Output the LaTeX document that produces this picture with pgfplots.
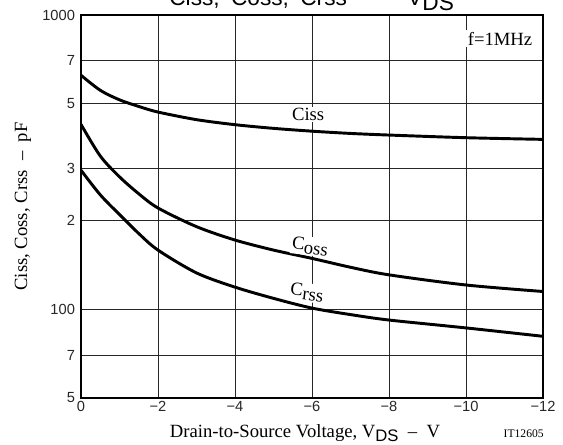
\documentclass[border=0pt]{standalone}
\usepackage{pgfplots}
\pgfplotsset{compat=1.18}
\usepackage{fontspec}
\setmainfont{Liberation Serif}
\newfontfamily\hel{Liberation Sans}
\begin{document}
\begin{tikzpicture}
\useasboundingbox (-60.75pt,-35.25pt) rectangle (361.5pt,298.5pt);
\clip (-60.75pt,-35.25pt) rectangle (361.5pt,298.5pt);
\begin{axis}[
  at={(0pt,0pt)}, anchor=south west,
  width=346.5pt, height=287.25pt, scale only axis,
  xmin=-12, xmax=0, x dir=reverse,
  ymode=log, ymin=50, ymax=1000,
  xtick={0,-2,-4,-6,-8,-10,-12},
  xticklabels={0,−2,−4,−6,−8,−10,−12},
  ytick={50,70,100,200,300,500,700,1000},
  yticklabels={5,7,100,2,3,5,7,1000},
  minor tick num=0,
  grid=major,
  major grid style={black!85, line width=0.7pt},
  axis line style={line width=1.1pt},
  major tick length=0pt,
  tick style={draw=none},
  tick label style={font=\hel\fontsize{11}{13}\selectfont, text=black!85},
  xticklabel style={yshift=1pt},
  yticklabel style={xshift=-1pt},
  clip=true,
]
\addplot[black, line width=2.2pt, smooth] coordinates {
 (0,624) (-0.5,555) (-1,515) (-1.5,489) (-2,468) (-3,441) (-4,424) (-5,412) (-6,403) (-7,396) (-8,391) (-10,383) (-12,378)};
\addplot[black, line width=2.2pt, smooth] coordinates {
 (0,425) (-0.5,332) (-1,282) (-1.5,247) (-2,221) (-3,191) (-4,172) (-5,159) (-6,149) (-7,139) (-8,131) (-10,121) (-12,115)};
\addplot[black, line width=2.2pt, smooth] coordinates {
 (0,297) (-0.5,245) (-1,210) (-1.5,181) (-2,159) (-3,133) (-4,119) (-5,109) (-6,101) (-7,96) (-8,92) (-10,86.5) (-12,81)};
\node[fill=white, inner sep=1pt, font=\fontsize{14}{16}\selectfont] at (axis cs:-5.9,459) {Ciss};
\node[fill=white, inner sep=1pt, rotate=-7, font=\fontsize{14}{16}\selectfont] at (axis cs:-5.95,164) {C\raisebox{-2.5pt}{oss}};
\node[fill=white, inner sep=1pt, rotate=-7, font=\fontsize{14}{16}\selectfont] at (axis cs:-5.87,114) {C\raisebox{-2.5pt}{rss}};
\node[fill=white, inner sep=1.5pt, anchor=east, font=\fontsize{14}{16}\selectfont] at (axis cs:-11.78,830) {f=1MHz};
\end{axis}
\node[anchor=base, font=\hel\fontsize{17}{20}\selectfont] at (173pt,294.5pt) {Ciss,\enspace Coss,\enspace Crss\quad --\quad V\raisebox{-4pt}{DS}};
\node[rotate=90, font=\fontsize{14}{16}\selectfont] at (-43.5pt,143.6pt) {Ciss, Coss, Crss\enspace –\enspace pF};
\node[anchor=base, font=\fontsize{14}{16}\selectfont] at (168pt,-30pt) {Drain-to-Source Voltage, V\raisebox{-3pt}{\hel\fontsize{12.5}{14}\selectfont DS}\enspace –\enspace V};
\node[anchor=base, font=\fontsize{8.7}{10}\selectfont] at (332pt,-30pt) {IT12605};
\end{tikzpicture}
\end{document}
